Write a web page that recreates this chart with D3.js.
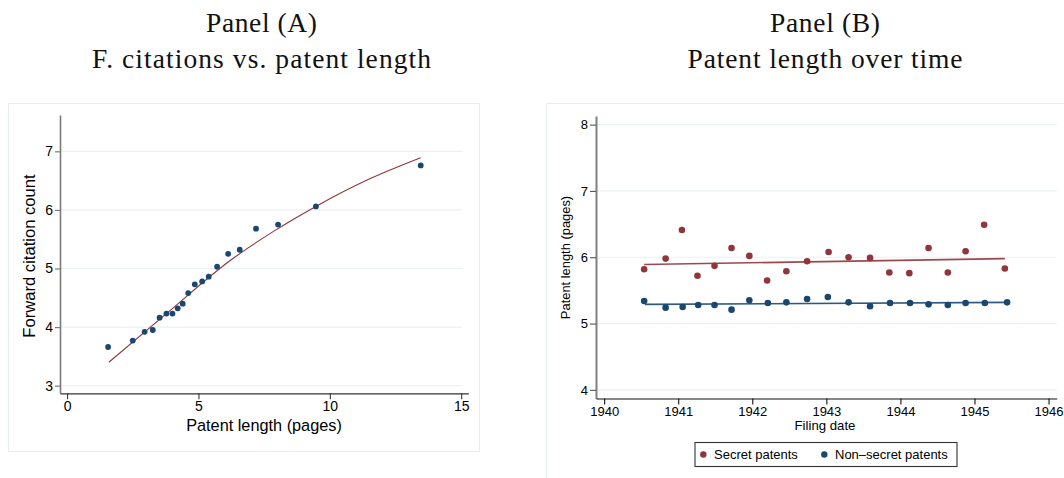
<!DOCTYPE html>
<html>
<head>
<meta charset="utf-8">
<script src="https://cdn.jsdelivr.net/npm/d3@7"></script>
<style>
  html, body { margin: 0; padding: 0; background: #ffffff; }
  svg { display: block; }
  .tick text { font-family: "Liberation Sans", Arial, sans-serif; fill: #000; }
</style>
</head>
<body>
<svg id="chart" width="1064" height="478"></svg>
<script>
// ---- Panel A: binned forward citations against patent length ----
const lengthBins = [1.56, 2.50, 2.95, 3.26, 3.52, 3.78, 4.01, 4.21, 4.40, 4.61,
                    4.86, 5.14, 5.39, 5.71, 6.13, 6.57, 7.19, 8.03, 9.47, 13.46];
const citationMeans = [3.66, 3.77, 3.92, 3.95, 4.16, 4.23, 4.23, 4.32, 4.40, 4.58,
                       4.73, 4.78, 4.86, 5.03, 5.25, 5.32, 5.68, 5.75, 6.06, 6.76];
// fitted curve (x, fitted value)
const fitLengthX = [1.59, 3.78, 6.22, 7.84, 9.47, 11.52, 13.46];
const fitCitationY = [3.40, 4.23, 5.14, 5.63, 6.06, 6.53, 6.89];
const ticksAX = [0, 5, 10, 15];
const ticksAY = [3, 4, 5, 6, 7];

// ---- Panel B: patent length by filing date ----
const filingDates = [1940.54, 1940.83, 1941.05, 1941.26, 1941.49, 1941.72, 1941.96, 1942.20,
                     1942.46, 1942.74, 1943.03, 1943.30, 1943.59, 1943.85, 1944.12, 1944.38,
                     1944.64, 1944.88, 1945.13, 1945.41];
const secretLength = [5.82, 5.98, 6.41, 5.72, 5.87, 6.14, 6.02, 5.65, 5.79, 5.94,
                      6.08, 6.00, 5.99, 5.77, 5.76, 6.14, 5.77, 6.09, 6.49, 5.83];
const filingDatesNS = [1940.54, 1940.83, 1941.06, 1941.27, 1941.49, 1941.72, 1941.96, 1942.21,
                       1942.46, 1942.74, 1943.02, 1943.30, 1943.59, 1943.86, 1944.13, 1944.38,
                       1944.64, 1944.88, 1945.14, 1945.44];
const nonSecretLength = [5.34, 5.24, 5.25, 5.28, 5.28, 5.21, 5.35, 5.31, 5.32, 5.37,
                         5.40, 5.32, 5.26, 5.31, 5.31, 5.29, 5.28, 5.31, 5.31, 5.32];
const secretFitX = [1940.54, 1945.41];
const secretFitY = [5.89, 5.98];
const nonSecretFitX = [1940.55, 1945.47];
const nonSecretFitY = [5.29, 5.32];
const ticksBX = [1940, 1941, 1942, 1943, 1944, 1945, 1946];
const ticksBY = [4, 5, 6, 7, 8];
const legendLabels = ["Secret patents", "Non\u2013secret patents"];

const RED = "#90353b";
const BLUE = "#1a476f";
const GRID = "#eaf2f3";
const SANS = "'Liberation Sans', Arial, sans-serif";

const svg = d3.select("#chart");
svg.append("rect").attr("width", 1064).attr("height", 478).attr("fill", "#fff");

// panel frames
svg.append("rect").attr("x", 8.5).attr("y", 103.5).attr("width", 471).attr("height", 348)
  .attr("fill", "none").attr("stroke", "#e6eef0").attr("stroke-width", 1);
svg.append("rect").attr("x", 546.5).attr("y", 103.5).attr("width", 530).attr("height", 400)
  .attr("fill", "none").attr("stroke", "#e6eef0").attr("stroke-width", 1);

// titles
function title(cx, lines, widths) {
  lines.forEach((t, i) => {
    svg.append("text")
      .attr("x", cx).attr("y", i === 0 ? 32 : 67.5)
      .attr("text-anchor", "middle")
      .attr("font-family", "'Liberation Serif', 'Times New Roman', serif")
      .attr("font-size", 27.5)
      .attr("textLength", widths[i])
      .attr("lengthAdjust", "spacing")
      .attr("fill", "#111")
      .text(t);
  });
}
title(261.5, ["Panel (A)", "F. citations vs. patent length"], [111, 339]);
title(825, ["Panel (B)", "Patent length over time"], [110, 275]);

// ================= Panel A =================
const xA = d3.scaleLinear().domain([-0.27, 15.27]).range([60, 468.3]);
const yA = d3.scaleLinear().domain([2.87, 7.62]).range([393.3, 115]);
const gA = svg.append("g");

gA.append("g").selectAll("line").data(ticksAY).join("line")
  .attr("x1", xA.range()[0]).attr("x2", xA(15.05))
  .attr("y1", d => yA(d)).attr("y2", d => yA(d))
  .attr("stroke", GRID).attr("stroke-width", 1.2);

const axAy = gA.append("g").attr("transform", `translate(${xA.range()[0]},0)`)
  .call(d3.axisLeft(yA).tickValues(ticksAY).tickFormat(d3.format("d"))
    .tickSize(5).tickSizeOuter(0).tickPadding(2));
axAy.select(".domain").attr("stroke", "#7a7a7a").attr("stroke-width", 1.6);
axAy.selectAll(".tick line").attr("stroke", "#7a7a7a").attr("stroke-width", 1.2);
axAy.selectAll(".tick text").attr("font-size", 14);

const axAx = gA.append("g").attr("transform", `translate(0,${yA.range()[0]})`)
  .call(d3.axisBottom(xA).tickValues(ticksAX).tickFormat(d3.format("d"))
    .tickSize(6).tickSizeOuter(0).tickPadding(2));
axAx.select(".domain").attr("stroke", "#333").attr("stroke-width", 1.2);
axAx.selectAll(".tick line").attr("stroke", "#333").attr("stroke-width", 1.1);
axAx.selectAll(".tick text").attr("font-size", 14);

const fitA = fitLengthX.map((x, i) => [x, fitCitationY[i]]);
gA.append("path").datum(fitA)
  .attr("d", d3.line().x(d => xA(d[0])).y(d => yA(d[1])).curve(d3.curveMonotoneX))
  .attr("fill", "none").attr("stroke", RED).attr("stroke-width", 1.1);

gA.append("g").selectAll("circle").data(lengthBins.map((x, i) => [x, citationMeans[i]])).join("circle")
  .attr("cx", d => xA(d[0])).attr("cy", d => yA(d[1])).attr("r", 2.9)
  .attr("fill", BLUE);

gA.append("text").attr("x", 264).attr("y", 431)
  .attr("text-anchor", "middle").attr("font-family", SANS)
  .attr("font-size", 16.3).text("Patent length (pages)");
gA.append("text").attr("transform", "translate(35,256) rotate(-90)")
  .attr("text-anchor", "middle").attr("font-family", SANS)
  .attr("font-size", 16.6).text("Forward citation count");

// ================= Panel B =================
const xB = d3.scaleLinear().domain([1939.89, 1946.11]).range([596, 1056.7]);
const yB = d3.scaleLinear().domain([3.87, 8.13]).range([398.5, 116]);
const gB = svg.append("g");

gB.append("g").selectAll("line").data(ticksBY).join("line")
  .attr("x1", xB.range()[0]).attr("x2", xB.range()[1])
  .attr("y1", d => yB(d)).attr("y2", d => yB(d))
  .attr("stroke", GRID).attr("stroke-width", 1.2);

const axBy = gB.append("g").attr("transform", `translate(${xB.range()[0]},0)`)
  .call(d3.axisLeft(yB).tickValues(ticksBY).tickFormat(d3.format("d"))
    .tickSize(6).tickSizeOuter(0).tickPadding(2));
axBy.select(".domain").attr("stroke", "#808080").attr("stroke-width", 2);
axBy.selectAll(".tick line").attr("stroke", "#555").attr("stroke-width", 1.1);
axBy.selectAll(".tick text").attr("font-size", 13);

const axBx = gB.append("g").attr("transform", `translate(0,${yB.range()[0]})`)
  .call(d3.axisBottom(xB).tickValues(ticksBX).tickFormat(d3.format("d"))
    .tickSize(6).tickSizeOuter(0).tickPadding(2));
axBx.select(".domain").attr("stroke", "#111").attr("stroke-width", 1.2);
axBx.selectAll(".tick line").attr("stroke", "#111").attr("stroke-width", 1.1);
axBx.selectAll(".tick text").attr("font-size", 13);

const lineB = d3.line().x(d => xB(d[0])).y(d => yB(d[1]));
gB.append("path").datum(secretFitX.map((x, i) => [x, secretFitY[i]]))
  .attr("d", lineB).attr("fill", "none").attr("stroke", RED).attr("stroke-width", 1.6).attr("stroke-opacity", 0.9);
gB.append("path").datum(nonSecretFitX.map((x, i) => [x, nonSecretFitY[i]]))
  .attr("d", lineB).attr("fill", "none").attr("stroke", BLUE).attr("stroke-width", 1.6).attr("stroke-opacity", 0.9);

gB.append("g").selectAll("circle").data(filingDates.map((x, i) => [x, secretLength[i]])).join("circle")
  .attr("cx", d => xB(d[0])).attr("cy", d => yB(d[1])).attr("r", 3.3).attr("fill", RED);
gB.append("g").selectAll("circle").data(filingDatesNS.map((x, i) => [x, nonSecretLength[i]])).join("circle")
  .attr("cx", d => xB(d[0])).attr("cy", d => yB(d[1])).attr("r", 3.3).attr("fill", BLUE);

gB.append("text").attr("x", 825).attr("y", 429.5)
  .attr("text-anchor", "middle").attr("font-family", SANS)
  .attr("font-size", 13.2).text("Filing date");
gB.append("text").attr("transform", "translate(570,257.5) rotate(-90)")
  .attr("text-anchor", "middle").attr("font-family", SANS)
  .attr("font-size", 12.9).text("Patent length (pages)");

// legend
const leg = gB.append("g");
leg.append("rect").attr("x", 695).attr("y", 442.5).attr("width", 262).attr("height", 24)
  .attr("fill", "#fff").attr("stroke", "#333").attr("stroke-width", 1.1);
const legItems = [
  { label: legendLabels[0], color: RED, mx: 703.3, tx: 714 },
  { label: legendLabels[1], color: BLUE, mx: 824.3, tx: 835 }
];
legItems.forEach(it => {
  leg.append("circle").attr("cx", it.mx).attr("cy", 454.5).attr("r", 3.2).attr("fill", it.color);
  leg.append("text").attr("x", it.tx).attr("y", 459)
    .attr("font-family", SANS).attr("font-size", 13)
    .text(it.label);
});
</script>
</body>
</html>
